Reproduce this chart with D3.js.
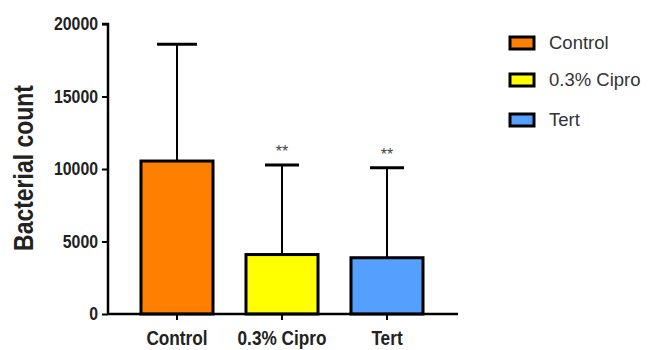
<!DOCTYPE html>
<html><head><meta charset="utf-8">
<script src="https://cdn.jsdelivr.net/npm/d3@7"></script>
<style>body{margin:0;background:#fff}svg{display:block}</style>
</head><body>
<script>
const categories = ["Control", "0.3% Cipro", "Tert"];
const means = [10550, 4100, 3880];
const errTops = [18600, 10280, 10080];
const signif = ["", "**", "**"];
const colors = ["#FF7F00", "#FFFF00", "#559FFF"];
const yTicks = [0, 5000, 10000, 15000, 20000];

const W = 649, H = 350;
const svg = d3.select("body").append("svg").attr("width", W).attr("height", H);

const y = d3.scaleLinear().domain([0, 20000]).range([314, 24]);
const x = d3.scaleBand().domain(categories).range([124.5, 439.5]).paddingInner(0.314).paddingOuter(0.157);

const font = "Arial, 'Liberation Sans', sans-serif";

// error bars (behind bars)
const eg = svg.append("g");
categories.forEach((c, i) => {
  const cx = x(c) + x.bandwidth() / 2;
  eg.append("line").attr("x1", cx).attr("x2", cx).attr("y1", y(means[i])).attr("y2", y(errTops[i]))
    .attr("stroke", "#000").attr("stroke-width", 2);
  const half = i === 0 ? 20 : 17;
  eg.append("line").attr("x1", cx - half).attr("x2", cx + half).attr("y1", y(errTops[i])).attr("y2", y(errTops[i]))
    .attr("stroke", "#000").attr("stroke-width", 3);
  if (signif[i]) {
    svg.append("text").attr("x", cx).attr("y", y(errTops[i]) - 8).attr("text-anchor", "middle")
      .attr("font-family", font).attr("font-size", 16).attr("fill", "#444").text(signif[i]);
  }
});

// bars
svg.append("g").selectAll("rect").data(categories).join("rect")
  .attr("x", d => x(d)).attr("width", x.bandwidth())
  .attr("y", (d, i) => y(means[i])).attr("height", (d, i) => y(0) - y(means[i]))
  .attr("fill", (d, i) => colors[i]).attr("stroke", "#000").attr("stroke-width", 3);

// y axis
const ya = svg.append("g").attr("transform", "translate(108,0)")
  .call(d3.axisLeft(y).tickValues(yTicks).tickSize(6).tickPadding(4).tickFormat(d3.format("d")));
ya.select(".domain").attr("stroke-width", 2.5).attr("d", `M-6,${y(20000)}H0V${y(0)}`);
ya.selectAll(".tick line").attr("stroke-width", 2);
ya.selectAll("text").attr("font-family", font).attr("font-weight", "bold").attr("font-size", 18).attr("fill", "#222")
  .attr("x", -10 / 0.88).attr("transform", "scale(0.88,1)");

// x axis
const xa = svg.append("g").attr("transform", `translate(0,${y(0)})`)
  .call(d3.axisBottom(x).tickSize(6).tickPadding(6));
xa.select(".domain").attr("stroke-width", 2.5).attr("d", `M108,0H458`);
xa.selectAll(".tick line").attr("stroke-width", 2);
xa.selectAll("text").attr("font-family", font).attr("font-weight", "bold").attr("font-size", 21).attr("fill", "#222")
  .attr("dy", null).attr("y", 31).attr("transform", "scale(0.82,1)");

// y label
svg.append("text").attr("transform", "translate(33,168) rotate(-90) scale(0.82,1)").attr("text-anchor", "middle")
  .attr("font-family", font).attr("font-weight", "bold").attr("font-size", 28).attr("fill", "#222")
  .text("Bacterial count");

// legend
const lg = svg.append("g");
const ly = [37, 74, 114];
categories.forEach((c, i) => {
  lg.append("rect").attr("x", 510).attr("y", ly[i]).attr("width", 24).attr("height", 12)
    .attr("fill", colors[i]).attr("stroke", "#000").attr("stroke-width", 3);
  lg.append("text").attr("x", 549).attr("y", ly[i] + 6).attr("dy", "0.35em")
    .attr("font-family", font).attr("font-size", 18.5).attr("fill", "#333").text(c);
});
</script>
</body></html>
